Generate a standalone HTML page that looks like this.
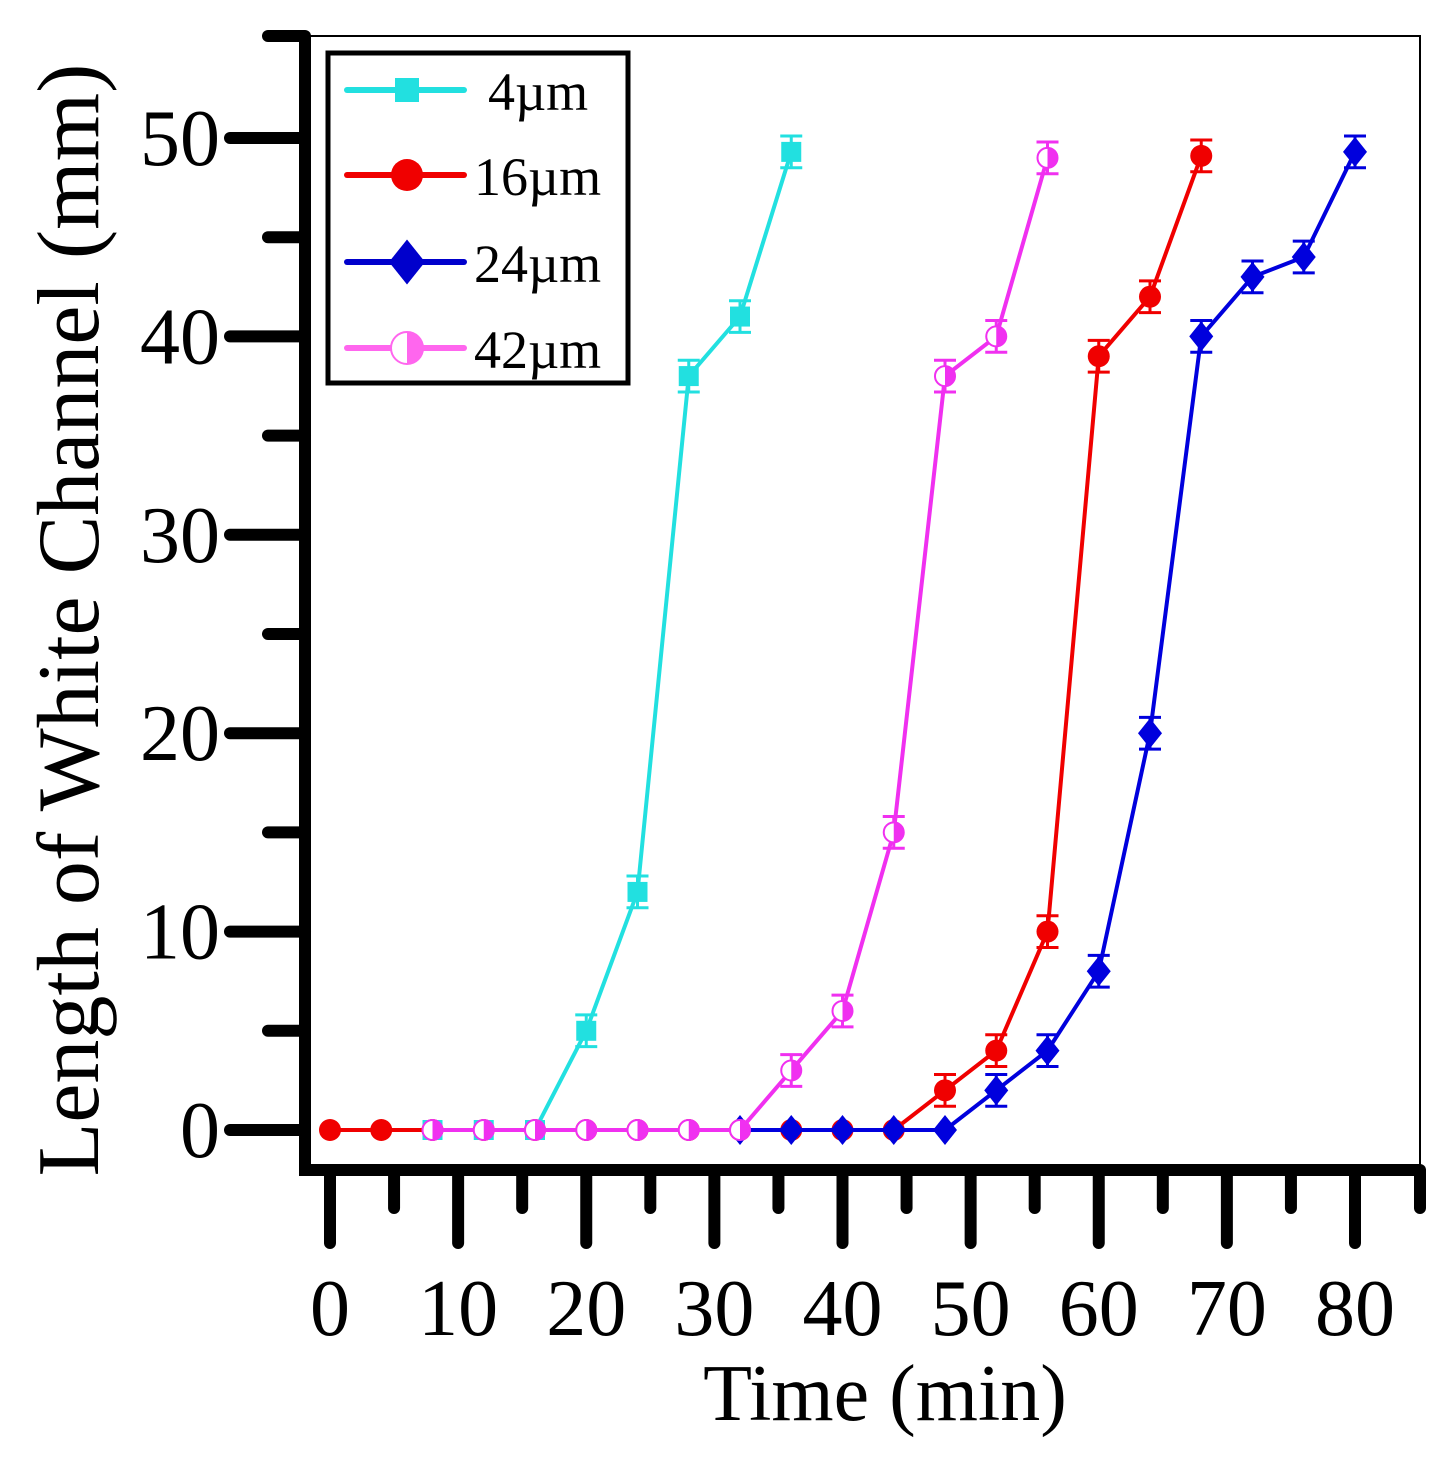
<!DOCTYPE html>
<html><head><meta charset="utf-8"><style>
body{margin:0;background:#fff}
svg text{font-family:"Liberation Serif",serif;fill:#000}
</style></head><body>
<svg id="chart" width="1448" height="1452" xmlns="http://www.w3.org/2000/svg">
<g id="axes"></g>
<g id="series"></g>
<g id="legend"></g>
<text x="885" y="1420" font-size="80" text-anchor="middle">Time (min)</text>
<text transform="translate(98,620) rotate(-90)" font-size="88" text-anchor="middle">Length of  White Channel  (mm)</text>
</svg>
<script>
const xTicks=[0,10,20,30,40,50,60,70,80];
const yTicks=[0,10,20,30,40,50];
const tRed=[0,4,8,12,16,20,24,28,32,36,40,44,48,52,56,60,64,68];
const vRed=[0,0,0,0,0,0,0,0,0,0,0,0,2,4,10,39,42,49.1];
const tBlue=[32,36,40,44,48,52,56,60,64,68,72,76,80];
const vBlue=[0,0,0,0,0,2,4,8,20,40,43,44,49.3];
const tCyan=[8,12,16,20,24,28,32,36];
const vCyan=[0,0,0,5,12,38,41,49.3];
const tMag=[8,12,16,20,24,28,32,36,40,44,48,52,56];
const vMag=[0,0,0,0,0,0,0,3,6,15,38,40,49];
const err=0.8;
const NS="http://www.w3.org/2000/svg";
const X=v=>330+v*12.8125, Y=v=>1130-v*19.84;
function mk(tag,at,parent){const e=document.createElementNS(NS,tag);for(const k in at)e.setAttribute(k,at[k]);parent.appendChild(e);return e;}
const ax=document.getElementById('axes');
let e;
e=mk('rect',{x:305,y:36,width:1115,height:1134,fill:'none',stroke:'#000','stroke-width':2},ax);

e=mk('line',{x1:305,y1:36,x2:305,y2:1176,stroke:'#000','stroke-width':12},ax);

e=mk('line',{x1:299,y1:1170,x2:1420,y2:1170,stroke:'#000','stroke-width':12},ax);

e=mk('line',{x1:268,y1:36,x2:305,y2:36,stroke:'#000','stroke-width':12,'stroke-linecap':'round'},ax);

e=mk('line',{x1:1420,y1:1170,x2:1420,y2:1208,stroke:'#000','stroke-width':12,'stroke-linecap':'round'},ax);

for(let i=0;i<=10;i++){const v=i*5;const maj=i%2==0;
 e=mk('line',{x1:maj?230:268,y1:Y(v),x2:305,y2:Y(v),stroke:'#000','stroke-width':12,'stroke-linecap':'round'},ax);
 }
yTicks.forEach(v=>{e=mk('text',{x:220,y:Y(v)+27,'font-size':80,'text-anchor':'end'},ax);e.textContent=v;
 });
for(let i=0;i<=16;i++){const v=i*5;const maj=i%2==0;
 e=mk('line',{x1:X(v),y1:1170,x2:X(v),y2:maj?1243:1208,stroke:'#000','stroke-width':12,'stroke-linecap':'round'},ax);
 }
xTicks.forEach(v=>{e=mk('text',{x:X(v),y:1335,'font-size':80,'text-anchor':'middle'},ax);e.textContent=v;
 });
const sg=document.getElementById('series');
function marker(type,col,cx,cy,g,s){
 if(type==='sq'){return mk('rect',{x:cx-s,y:cy-s,width:2*s,height:2*s,fill:col},g);}
 if(type==='ci'){return mk('circle',{cx:cx,cy:cy,r:s,fill:col},g);}
 if(type==='di'){return mk('polygon',{points:`${cx},${cy-s*1.5} ${cx+s*1.2},${cy} ${cx},${cy+s*1.5} ${cx-s*1.2},${cy}`,fill:col},g);}
 const gg=mk('g',{},g);
 mk('circle',{cx:cx,cy:cy,r:s,fill:'#fff',stroke:col,'stroke-width':2},gg);
 mk('path',{d:`M${cx},${cy-s} A${s},${s} 0 0 1 ${cx},${cy+s} Z`,fill:col},gg);
 return gg;
}
function series(name,ts,vs,col,type,s){
 const g=mk('g',{},sg);
 const p=mk('polyline',{points:ts.map((t,i)=>X(t)+','+Y(vs[i])).join(' '),fill:'none',stroke:col,'stroke-width':4},g);
 
 ts.forEach((t,i)=>{if(vs[i]>0){const cx=X(t);
  const eb=mk('path',{d:`M${cx},${Y(vs[i]+err)}V${Y(vs[i]-err)}M${cx-11},${Y(vs[i]+err)}H${cx+11}M${cx-11},${Y(vs[i]-err)}H${cx+11}`,stroke:col,'stroke-width':3,fill:'none'},g);
  }
  const m=marker(type,col,X(t),Y(vs[i]),g,s);
  });
}
series('16um',tRed,vRed,'#f00000','ci',11);
series('24um',tBlue,vBlue,'#0000dd','di',10);
series('4um',tCyan,vCyan,'#22e0e0','sq',10);
series('42um',tMag,vMag,'#f030f0','half',10);
const lg=document.getElementById('legend');
e=mk('rect',{x:328,y:53,width:300,height:330,fill:'#fff',stroke:'#000','stroke-width':5},lg);

[['4µm','#22e0e0','sq',12,90],['16µm','#f00000','ci',16,175],['24µm','#0000cc','di',15,262],['42µm','#ff66ee','half',16,348]].forEach(([lab,col,type,s,y])=>{
 const g=mk('g',{},lg);
 mk('line',{x1:347,y1:y,x2:464,y2:y,stroke:col,'stroke-width':6,'stroke-linecap':'round'},g);
 marker(type,col,407,y,g,s);
 const t=mk('text',{x:lab==='4µm'?488:474,y:y+20,'font-size':54},g);t.textContent=lab;
});
</script>
</body></html>
